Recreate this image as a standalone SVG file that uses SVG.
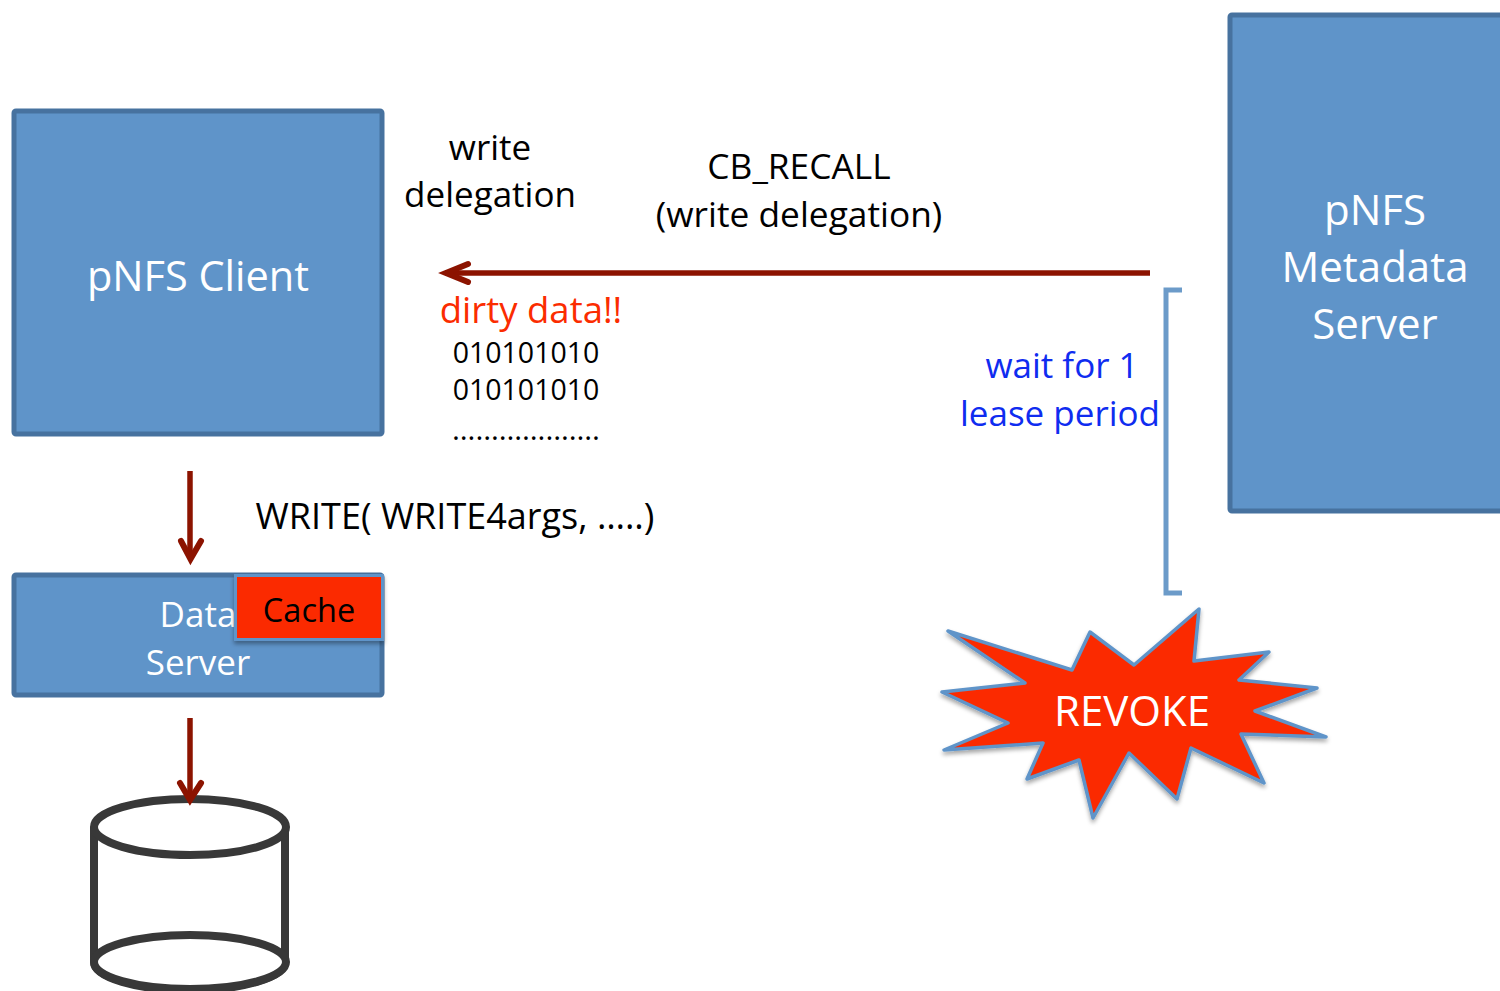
<svg xmlns="http://www.w3.org/2000/svg" width="1500" height="991" viewBox="0 0 1500 991">
<style>
text{font-family:"Open Sans","Noto Sans","Liberation Sans",sans-serif;text-anchor:middle}
.box{fill:#5f94c9;stroke:#47729f;stroke-width:5}
.w{fill:#fff}.k{fill:#000}.b{fill:#0f2cf0}
.f{font-size:35px}
.t{font-size:42px}
.c{fill:none;stroke:#8c1300;stroke-width:5.5}
.h{fill:none;stroke:#8c1300;stroke-width:6;stroke-linecap:round}
.d{fill:#fff;stroke:#383838;stroke-width:8}
</style>
<defs><filter id="sh" x="-10%" y="-10%" width="120%" height="125%"><feDropShadow dx="0" dy="3" stdDeviation="2" flood-color="#000" flood-opacity="0.35"/></filter></defs>
<rect width="1500" height="991" fill="#fff"/>
<g id="client"><rect class="box" x="14" y="111" width="368" height="323" rx="2"/><text class="w" font-size="41.500" x="198" y="291">pNFS Client</text></g>
<g id="metadata"><rect class="box" x="1230" y="15" width="280" height="496" rx="2"/><text class="w t"><tspan x="1375" y="225">pNFS</tspan><tspan x="1375" y="282">Metadata</tspan><tspan x="1375" y="339">Server</tspan></text></g>
<g id="dataserver"><rect class="box" x="14" y="575" width="368" height="120" rx="2"/><text class="w f"><tspan x="198" y="627">Data</tspan><tspan x="198" y="675">Server</tspan></text></g>
<g id="cache"><rect x="235.500" y="575.500" width="147" height="64" fill="#fb2c00" stroke="#5f94c9" stroke-width="3" filter="url(#sh)"/><text class="k" font-size="32.500" x="309" y="622">Cache</text></g>
<g id="disk"><path class="d" d="M94 827V962A95 28 0 0 0 285 962V827"/><ellipse class="d" cx="190" cy="827" rx="96" ry="28"/><ellipse class="d" cx="190" cy="962" rx="96" ry="27"/></g>
<g id="revoke"><polygon fill="#fb2c00" stroke="#5f94c9" stroke-width="3.5" stroke-linejoin="round" filter="url(#sh)" points="948,631 1072,670 1090,632 1134,665 1199,609 1194,661 1269,652 1239,680 1317,688 1255,711 1326,737 1241,734 1264,783 1191,748 1177,799 1129,753 1093,818 1079,760 1027,779 1043,743 944,750 1008,723 942,692 1025,683"/><text class="w t" x="1132" y="726">REVOKE</text></g>
<g id="labels">
<text class="k f"><tspan x="490" y="160">write</tspan><tspan x="490" y="207">delegation</tspan></text>
<text class="k" font-size="35.300"><tspan x="799" y="179">CB_RECALL</tspan><tspan x="799" y="227">(write delegation)</tspan></text>
<text x="531" y="323" font-size="36.500" fill="#fb2c00">dirty data!!</text>
<text class="k" font-size="28.500"><tspan x="526" y="363">010101010</tspan><tspan x="526" y="400">010101010</tspan><tspan x="526" y="440" font-size="30">……………….</tspan></text>
<text class="k" font-size="36" x="455" y="529">WRITE( WRITE4args, …..)</text>
<text class="b f"><tspan x="1062" y="378">wait for 1</tspan><tspan x="1060" y="426">lease period</tspan></text>
</g>
<g id="connectors">
<path class="c" d="M1150 273H449"/><path class="h" d="M468 264L446 273L468 282"/>
<path class="c" d="M190 471V556"/><path class="h" d="M181 541L190.500 559L201 541"/>
<path class="c" d="M190 718V798"/><path class="h" d="M180 783L190 800L201 783"/>
<path fill="none" stroke="#6c9bc9" stroke-width="5" d="M1182 290H1166V593H1182"/>
</g>
</svg>
